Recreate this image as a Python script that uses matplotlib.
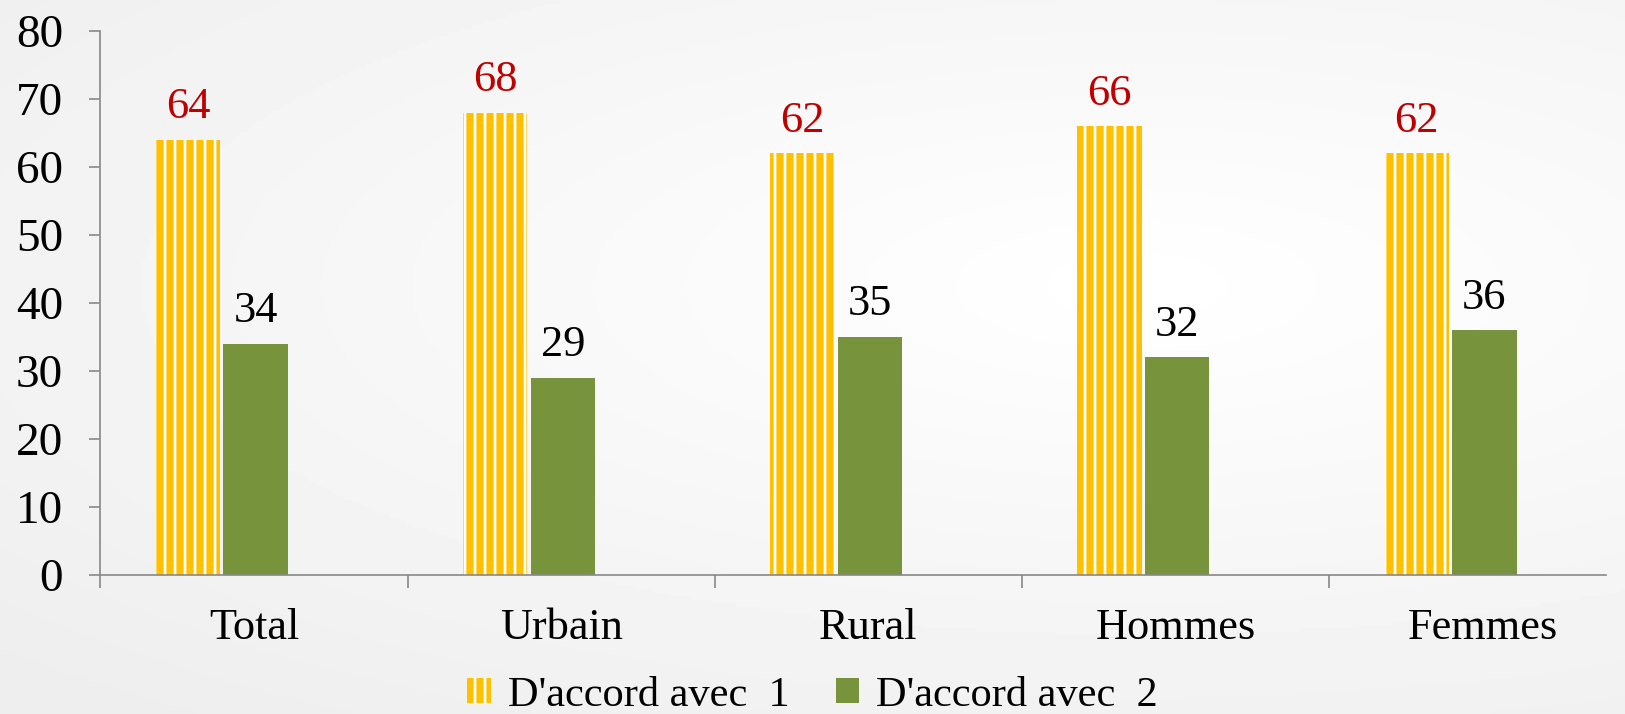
import matplotlib.pyplot as plt
import numpy as np

categories = ["Total", "Urbain", "Rural", "Hommes", "Femmes"]
accord1 = [64, 68, 62, 66, 62]
accord2 = [34, 29, 35, 32, 36]
series_names = ["D'accord avec  1", "D'accord avec  2"]

# render at 120 dpi so the hatch stripes get ~10 px spacing
DPI = 120
S = 100 / DPI  # sizes below were tuned at 100 dpi

plt.rcParams["font.family"] = ["Liberation Serif", "DejaVu Serif"]
plt.rcParams["hatch.linewidth"] = 2.0 * S

fig = plt.figure(figsize=(1625 / DPI, 714 / DPI), dpi=DPI)

# soft radial background
bg = fig.add_axes([0, 0, 1, 1], zorder=-5)
yy, xx = np.mgrid[0:1:200j, 0:1:400j]
r = np.sqrt(((xx - 0.7) / 1.0) ** 2 + ((yy - 0.4) / 0.8) ** 2)
bg.imshow(1 - 0.07 * np.clip(r, 0, 1), cmap="gray", vmin=0, vmax=1,
          aspect="auto", extent=[0, 1, 0, 1])
bg.axis("off")

ax = fig.add_axes([0.0618, 0.1947, 0.9262, 0.7619])
ax.patch.set_alpha(0)

x = np.arange(len(categories))
w = 0.21
b1 = ax.bar(x - 0.215, accord1, w, color="#FFC000", edgecolor="white",
            linewidth=0, hatch="||", label=series_names[0])
b2 = ax.bar(x + 0.005, accord2, w, color="#77933C", linewidth=0,
            label=series_names[1])

for rect, v in zip(b1, accord1):
    ax.annotate(str(v), (rect.get_x() + rect.get_width() / 2, v),
                xytext=(0, 9 * S), textcoords="offset points",
                ha="center", va="bottom", fontsize=32 * S, color="#C00000")
for rect, v in zip(b2, accord2):
    ax.annotate(str(v), (rect.get_x() + rect.get_width() / 2, v),
                xytext=(0, 9 * S), textcoords="offset points",
                ha="center", va="bottom", fontsize=32 * S, color="black")

ax.set_ylim(0, 80)
ax.set_xlim(-0.5, 4.399)
ax.set_yticks(range(0, 81, 10))
ax.set_xticks(np.arange(-0.5, 4.5, 1.0))
ax.set_xticklabels([])
ax.set_xticks(x, minor=True)
ax.set_xticklabels(categories, minor=True)
ax.tick_params(axis="x", which="minor", length=0, pad=24 * S,
               labelsize=32 * S)
ax.tick_params(axis="x", which="major", length=9 * S, color="#888888",
               width=1.2 * S)
ax.tick_params(axis="y", length=8 * S, color="#888888", width=1.2 * S,
               labelsize=34 * S, pad=19 * S)

for s in ["top", "right"]:
    ax.spines[s].set_visible(False)
for s in ["left", "bottom"]:
    ax.spines[s].set_color("#888888")
    ax.spines[s].set_linewidth(1.2 * S)

fig.legend(handles=[b1, b2], loc="center", bbox_to_anchor=(0.5, 0.026),
           ncol=2, frameon=False, fontsize=30.5 * S, handlelength=0.55,
           handleheight=0.55, handletextpad=0.4, columnspacing=1.1)

fig.savefig("out.png", dpi=DPI)
